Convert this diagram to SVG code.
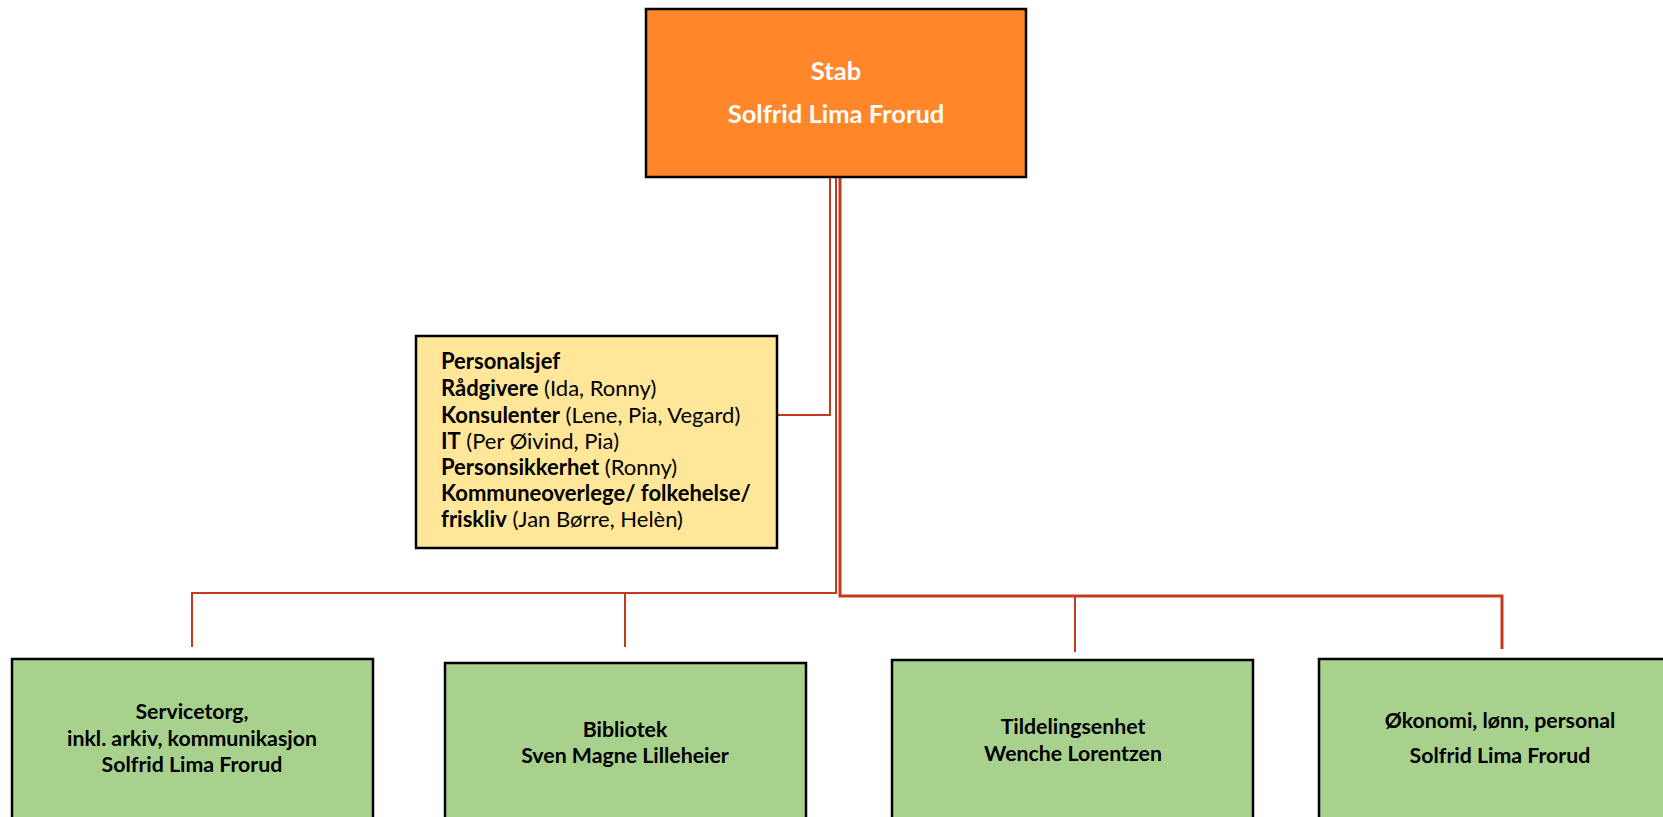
<svg xmlns="http://www.w3.org/2000/svg" width="1663" height="817" viewBox="0 0 1663 817">
<style>
.box{stroke:#000;stroke-width:2.5}
.top{fill:#FF8729}
.green{fill:#A9D18E}
.yellow{fill:#FFE699}
.t{font-family:Lato,"Liberation Sans",sans-serif;font-weight:bold;font-size:21.3px;fill:#000;text-anchor:middle}
.tw{font-family:Lato,"Liberation Sans",sans-serif;font-weight:bold;font-size:25.5px;fill:#fff;text-anchor:middle}
.ty{font-family:Lato,"Liberation Sans",sans-serif;font-size:22px;fill:#000}
.b{font-weight:bold}
.c{fill:none;stroke:#C23B1F;stroke-width:2}
</style>
<rect width="1663" height="817" fill="#fff"/>
<g id="connectors">
<polyline class="c" points="830,178 830,415 777,415"/>
<polyline class="c" points="836,178 836,593 192,593 192,647"/>
<line class="c" x1="625" y1="593" x2="625" y2="647"/>
<polyline class="c" style="stroke-width:3" points="840,178 840,596 1502,596 1502,649"/>
<line class="c" x1="1075" y1="596" x2="1075" y2="652"/>
</g>
<g id="stab">
<rect class="box top" x="646" y="9" width="380" height="168"/>
<text class="tw" x="836" y="80">Stab</text>
<text class="tw" x="836" y="123">Solfrid Lima Frorud</text>
</g>
<g id="personal">
<rect class="box yellow" x="416" y="336" width="361" height="212"/>
<text class="ty" x="441" y="369"><tspan class="b">Personalsjef</tspan></text>
<text class="ty" x="441" y="396"><tspan class="b">Rådgivere</tspan> (Ida, Ronny)</text>
<text class="ty" x="441" y="423"><tspan class="b">Konsulenter</tspan> (Lene, Pia, Vegard)</text>
<text class="ty" x="441" y="449"><tspan class="b">IT</tspan> (Per Øivind, Pia)</text>
<text class="ty" x="441" y="475"><tspan class="b">Personsikkerhet</tspan> (Ronny)</text>
<text class="ty" x="441" y="501"><tspan class="b">Kommuneoverlege/ folkehelse/</tspan></text>
<text class="ty" x="441" y="527"><tspan class="b">friskliv</tspan> (Jan Børre, Helèn)</text>
</g>
<g id="servicetorg">
<rect class="box green" x="12" y="659" width="361" height="180"/>
<text class="t" x="192" y="719">Servicetorg,</text>
<text class="t" x="192" y="746">inkl. arkiv, kommunikasjon</text>
<text class="t" x="192" y="772">Solfrid Lima Frorud</text>
</g>
<g id="bibliotek">
<rect class="box green" x="445" y="663" width="361" height="180"/>
<text class="t" x="625" y="737">Bibliotek</text>
<text class="t" x="625" y="763">Sven Magne Lilleheier</text>
</g>
<g id="tildeling">
<rect class="box green" x="892" y="660" width="361" height="180"/>
<text class="t" x="1073" y="734">Tildelingsenhet</text>
<text class="t" x="1073" y="761">Wenche Lorentzen</text>
</g>
<g id="okonomi">
<rect class="box green" x="1319" y="659" width="361" height="180"/>
<text class="t" x="1500" y="728">Økonomi, lønn, personal</text>
<text class="t" x="1500" y="763">Solfrid Lima Frorud</text>
</g>
</svg>
